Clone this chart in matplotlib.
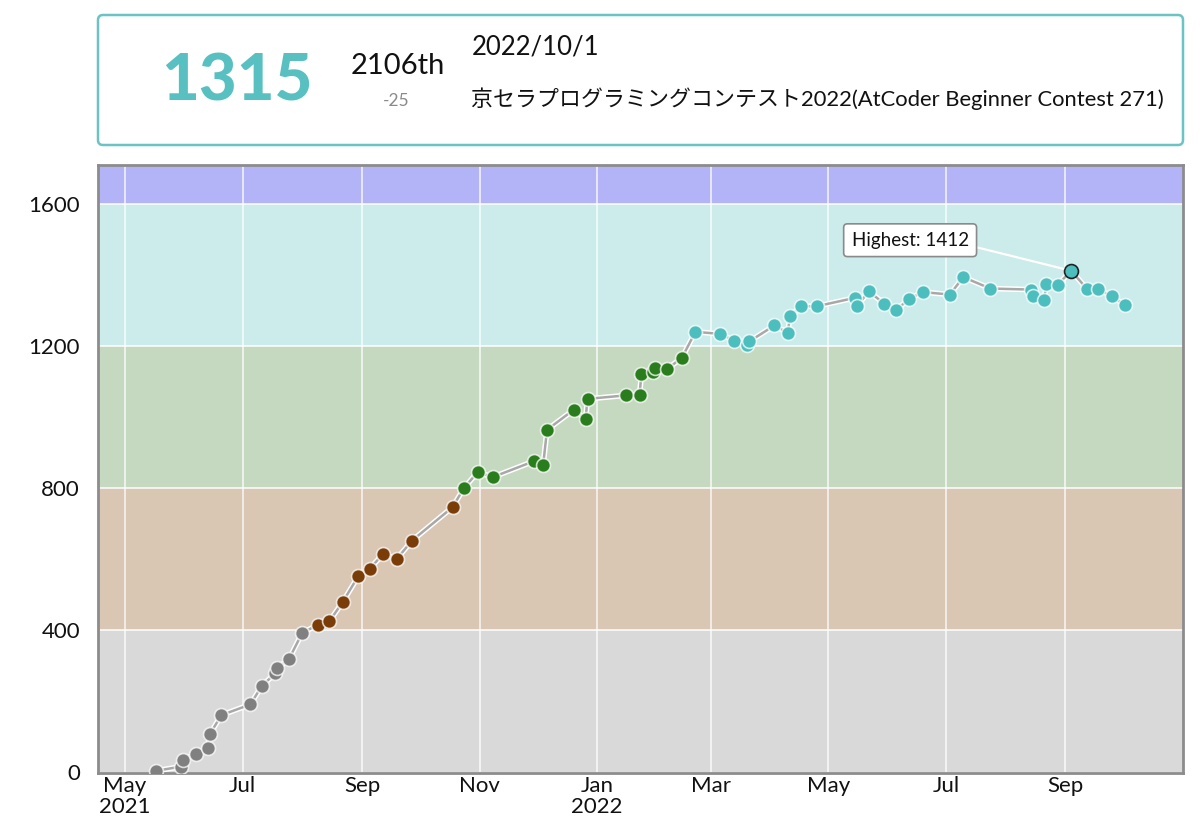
import datetime as dt

import matplotlib
matplotlib.use("Agg")
import matplotlib.pyplot as plt
from matplotlib.patches import FancyBboxPatch

plt.rcParams["font.family"] = ["Lato", "DejaVu Sans"]

# rating history
contest_dates = [
    "2021-05-17", "2021-05-30", "2021-05-31", "2021-06-07", "2021-06-13",
    "2021-06-14", "2021-06-20", "2021-07-05", "2021-07-11", "2021-07-18",
    "2021-07-19", "2021-07-25", "2021-08-01", "2021-08-09", "2021-08-15",
    "2021-08-22", "2021-08-30", "2021-09-05", "2021-09-12", "2021-09-19",
    "2021-09-27", "2021-10-18", "2021-10-24", "2021-10-31", "2021-11-08",
    "2021-11-29", "2021-12-04", "2021-12-06", "2021-12-20", "2021-12-26",
    "2021-12-27", "2022-01-16", "2022-01-23", "2022-01-24", "2022-01-30",
    "2022-01-31", "2022-02-06", "2022-02-14", "2022-02-21", "2022-03-06",
    "2022-03-13", "2022-03-20", "2022-03-21", "2022-04-03", "2022-04-10",
    "2022-04-11", "2022-04-17", "2022-04-25", "2022-05-15", "2022-05-16",
    "2022-05-22", "2022-05-30", "2022-06-05", "2022-06-12", "2022-06-19",
    "2022-07-03", "2022-07-10", "2022-07-24", "2022-08-14", "2022-08-15",
    "2022-08-21", "2022-08-22", "2022-08-28", "2022-09-04", "2022-09-12",
    "2022-09-18", "2022-09-25", "2022-10-02",
]
ratings = [
    3, 15, 34, 51, 68,
    106, 160, 190, 242, 278,
    293, 317, 392, 414, 424,
    479, 551, 573, 614, 600,
    652, 746, 801, 844, 831,
    875, 866, 964, 1021, 993,
    1051, 1061, 1063, 1120, 1126,
    1138, 1134, 1167, 1240, 1234,
    1215, 1204, 1213, 1258, 1237,
    1284, 1312, 1312, 1336, 1314,
    1354, 1319, 1301, 1333, 1352,
    1345, 1394, 1362, 1359, 1340,
    1329, 1376, 1373, 1412, 1362,
    1361, 1340, 1315,
]

band_edges = [0, 400, 800, 1200, 1600, 2000]
band_colors = ["#D9D9D9", "#D9C6B3", "#C4D9BF", "#CCEBEB", "#B3B3F8"]
point_colors = ["#808080", "#7A3D08", "#2A7D1C", "#4DBEBE", "#3333FF"]

y_ticks = [0, 400, 800, 1200, 1600]
x_tick_dates = [
    "2021-05-01", "2021-07-01", "2021-09-01", "2021-11-01", "2022-01-01",
    "2022-03-01", "2022-05-01", "2022-07-01", "2022-09-01",
]
x_tick_labels = ["May\n2021", "Jul", "Sep", "Nov", "Jan\n2022", "Mar", "May", "Jul", "Sep"]

current_rating = 1315
place = "2106th"
rating_diff = "-25"
contest_day = "2022/10/1"
contest_name = "京セラプログラミングコンテスト2022(AtCoder Beginner Contest 271)"


def to_date(s):
    return dt.datetime.strptime(s, "%Y-%m-%d")


def color_for(r):
    for i in range(len(band_edges) - 1):
        if r < band_edges[i + 1]:
            return point_colors[i]
    return point_colors[-1]


W, H = 1200, 834
fig = plt.figure(figsize=(W / 100, H / 100), dpi=100)


def fx(px):
    return px / W


def fy(py):
    return 1 - py / H


# ---- header card ----
card = FancyBboxPatch(
    (0.98, (H - 145) / 100), 10.85, 1.30,
    boxstyle="round,pad=0,rounding_size=0.05",
    transform=fig.dpi_scale_trans,
    facecolor="white", edgecolor="#6CC3C3", linewidth=1.8,
)
fig.patches.append(card)

fig.text(fx(237), fy(82), str(current_rating), ha="center", va="center",
         fontsize=47, fontweight="black", color="#58C0C0")
fig.text(fx(398), fy(66), place, ha="center", va="center", fontsize=21, color="#111111")
fig.text(fx(396), fy(101), rating_diff, ha="center", va="center", fontsize=12.5, color="#8A8A8A")
fig.text(fx(472), fy(47), contest_day, ha="left", va="center", fontsize=18.5, color="#111111")
fig.text(fx(471), fy(99), contest_name, ha="left", va="center", fontsize=15.8, color="#111111",
         family=["Lato", "Noto Sans CJK JP"])

# ---- rating chart ----
ax = fig.add_axes([fx(98), fy(773), fx(1183) - fx(98), fy(165) - fy(773)])

dates = [to_date(d) for d in contest_dates]
x_ticks = [to_date(d) for d in x_tick_dates]

ax.set_xlim(to_date("2021-04-17"), to_date("2022-11-01"))
ax.set_ylim(-3, 1710)

for i in range(len(band_colors)):
    ax.axhspan(band_edges[i], band_edges[i + 1], color=band_colors[i], lw=0, zorder=0)
for y in band_edges[1:-1]:
    ax.axhline(y, color="white", lw=1.2, alpha=0.9, zorder=1)
for x in x_ticks:
    ax.axvline(x, color="white", lw=1.2, alpha=0.8, zorder=1)

ax.plot(dates, ratings, color="white", lw=4, zorder=2, solid_capstyle="round")
ax.plot(dates, ratings, color="#A8A8A8", lw=1.8, zorder=3)

best = ratings.index(max(ratings))
for i, (d, r) in enumerate(zip(dates, ratings)):
    edge = "#222222" if i == best else (1, 1, 1, 0.75)
    ax.plot(d, r, "o", ms=10, mfc=color_for(r), mec=edge, mew=1.2, zorder=4)

ax.annotate(
    f"Highest: {ratings[best]}", xy=(dates[best], ratings[best]),
    xytext=(-116, 22), textcoords="offset points",
    ha="center", va="center", fontsize=13.5, color="#111111",
    bbox=dict(boxstyle="round,pad=0.42,rounding_size=0.2", fc="white", ec="#8A8A8A", lw=1.2),
    arrowprops=dict(arrowstyle="-", color="white", lw=1.6, relpos=(1.0, 0.2),
                    shrinkA=0, shrinkB=6),
    zorder=5,
)

ax.set_yticks(y_ticks)
ax.set_yticklabels([str(t) for t in y_ticks])
ax.set_xticks(x_ticks)
ax.set_xticklabels(x_tick_labels, linespacing=1.05)
ax.tick_params(axis="both", length=0, labelsize=16, colors="#111111")
ax.tick_params(axis="y", pad=13)
ax.tick_params(axis="x", pad=2)

for s in ax.spines.values():
    s.set_color("#8C8C8C")
    s.set_linewidth(2)

fig.savefig("out.png", dpi=100)
